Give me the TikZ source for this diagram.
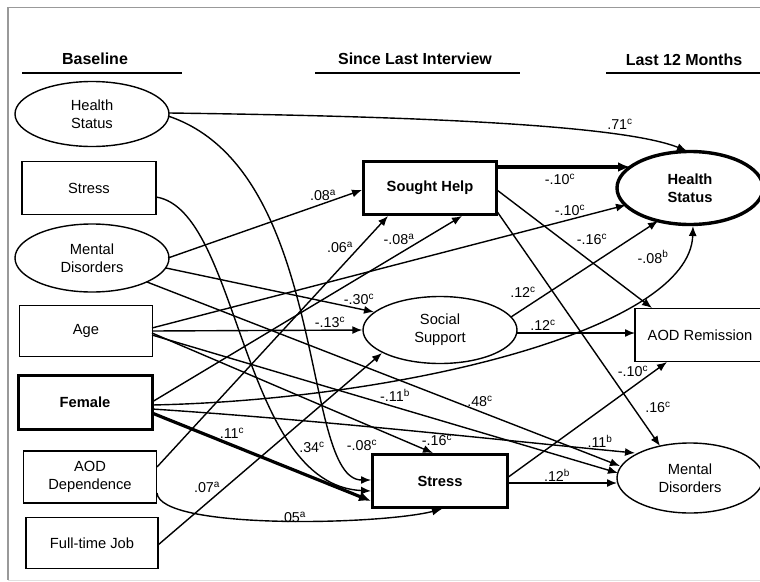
\documentclass[tikz,border=0pt]{standalone}
\usepackage{fontspec}
\setmainfont{Liberation Sans}
\usetikzlibrary{shapes.geometric,arrows.meta,calc}
\newcommand\pcoef[2]{#1\textsuperscript{#2}}
\begin{document}
\begin{tikzpicture}[x=1pt,y=-1pt,
  every node/.style={font=\fontsize{14.7}{18}\selectfont, align=center, inner sep=0pt},
  ell/.style={draw, ellipse, line width=1.4pt},
  box/.style={draw, rectangle, line width=1.4pt},
  heavy/.style={line width=3pt, font=\bfseries\fontsize{14.7}{18}\selectfont},
  conn/.style={line width=1.4pt, -{Latex[length=10pt,width=8pt]}},
  thickconn/.style={line width=3.2pt, -{Latex[length=12pt,width=10pt]}},
  lbl/.style={font=\fontsize{14.3}{15}\selectfont},
  hdr/.style={font=\bfseries\fontsize{16}{18}\selectfont},
  rule/.style={line width=1.6pt},
  frame/.style={line width=1.5pt, draw=black!40},
]
\useasboundingbox (0,0) rectangle (760,581);
\clip (0,0) rectangle (760,581);
\fill[white] (0,0) rectangle (760,581);
% frame
\coordinate (ftl) at (8,7.5);
\coordinate (ftr) at (761,7.5);
\coordinate (fbl) at (8,580);
\coordinate (fbr) at (761,580);
\draw[frame] (ftr) -- (ftl) -- (fbl);
\draw[line width=1pt, draw=black!12] (fbl) -- (fbr);

% headers
\node[hdr] (h1) at (95,59) {Baseline};
\node[hdr] (h2) at (415,59) {Since Last Interview};
\node[hdr] (h3) at (684,60) {Last 12 Months};
\draw[rule] (22,73) -- (182,73);
\draw[rule] (315,73) -- (520,73);
\draw[rule] (606,73) -- (765,73);

% baseline column
\node[ell, minimum width=154pt, minimum height=65pt] (bHS) at (92,114) {Health\\Status};
\node[box, minimum width=134pt, minimum height=53pt] (bSt) at (89,188) {Stress};
\node[ell, minimum width=154pt, minimum height=68pt] (bMD) at (92,258) {Mental\\Disorders};
\node[box, minimum width=133pt, minimum height=51pt] (bAge) at (86,331) {Age};
\node[box, heavy, minimum width=134pt, minimum height=54pt] (bFem) at (85,402) {Female};
\node[box, minimum width=133pt, minimum height=52pt] (bAOD) at (90,477) {AOD\\Dependence};
\node[box, minimum width=132pt, minimum height=51pt] (bJob) at (92,543) {Full-time Job};

% middle column
\node[box, heavy, minimum width=133pt, minimum height=53pt] (mSH) at (430,188) {Sought Help};
\node[ell, minimum width=154pt, minimum height=67pt] (mSS) at (440,330) {Social\\Support};
\node[box, heavy, minimum width=135pt, minimum height=53pt] (mSt) at (440,481) {Stress};

% right column
\node[ell, heavy, line width=3.4pt, minimum width=146pt, minimum height=73pt] (rHS) at (690,188) {Health\\Status};
\node[box, minimum width=130pt, minimum height=53pt] (rAOD) at (700,335) {AOD Remission};
\node[ell, minimum width=146pt, minimum height=70pt] (rMD) at (690,478) {Mental\\Disorders};

% connectors
\draw[conn] ($(bHS)+(77,-1)$) .. controls (400,116) and (620,124) .. ($(rHS)+(-3,-37)$);
\draw[conn] ($(bHS)+(76,2)$) .. controls (330,170) and (300,480) .. ($(mSt)+(-69,-1)$);
\draw[conn] ($(bSt)+(67,9)$) .. controls (240,210) and (240,485) .. ($(mSt)+(-69,10)$);
\draw[thickconn] ($(bFem)+(67,11)$) -- ($(mSt)+(-69,20)$);
\draw[conn] ($(bAOD)+(67,16)$) .. controls (160,530) and (380,525) .. ($(mSt)+(2,28)$);
\draw[conn] ($(bAOD)+(67,-10)$) -- ($(mSH)+(-42,28)$);
\draw[conn] ($(bJob)+(66,2)$) -- ($(mSS)+(-58,23)$);
\draw[conn] ($(bMD)+(76,0)$) -- ($(mSH)+(-68,2)$);
\draw[conn] ($(bMD)+(74,10)$) -- ($(mSS)+(-66,-18)$);
\draw[conn] ($(bMD)+(55,24)$) -- ($(rMD)+(-70,-12)$);
\draw[conn] ($(bAge)+(66,-3)$) -- ($(rHS)+(-64,17)$);
\draw[conn] ($(bAge)+(66,0)$) -- (mSS.west);
\draw[conn] ($(bAge)+(66,2)$) -- ($(mSt)+(-7,-28)$);
\draw[conn] ($(bAge)+(66,4)$) -- ($(rMD)+(-72,-5)$);
\draw[conn] ($(bFem)+(67,0)$) -- ($(mSH)+(32,28)$);
\draw[conn] ($(bFem)+(67,3)$) .. controls (400,400) and (690,330) .. ($(rHS)+(3,38)$);
\draw[conn] ($(bFem)+(67,7)$) .. controls (320,420) and (500,440) .. ($(rMD)+(-55,-25)$);
\draw[thickconn] ($(mSH)+(67,-21)$) -- ($(rHS)+(-60,-21)$);
\draw[conn] ($(mSH)+(67,2)$) -- ($(rAOD)+(-48,-27)$);
\draw[conn] ($(mSH)+(66,22)$) -- ($(rMD)+(-30,-32)$);
\draw[conn] ($(mSS)+(71,-13)$) -- ($(rHS)+(-32,33)$);
\draw[conn] ($(mSS)+(77,3)$) -- ($(rAOD)+(-65,-2)$);
\draw[conn] ($(mSt)+(67,-3)$) -- ($(rAOD)+(-33,27)$);
\draw[conn] ($(mSt)+(68,2)$) -- ($(rMD)+(-73,5)$);

% labels
\node[lbl] (l01) at (620,124) {\pcoef{.71}{c}};
\node[lbl] (l02) at (362,445) {\pcoef{-.08}{c}};
\node[lbl] (l03) at (312,447) {\pcoef{.34}{c}};
\node[lbl] (l04) at (232,433) {\pcoef{.11}{c}};
\node[lbl] (l05) at (293,517) {\pcoef{.05}{a}};
\node[lbl] (l06) at (340,247) {\pcoef{.06}{a}};
\node[lbl] (l07) at (207,487) {\pcoef{.07}{a}};
\node[lbl] (l08) at (323,195) {\pcoef{.08}{a}};
\node[lbl] (l09) at (359,299) {\pcoef{-.30}{c}};
\node[lbl] (l10) at (480,401) {\pcoef{.48}{c}};
\node[lbl] (l11) at (570,210) {\pcoef{-.10}{c}};
\node[lbl] (l12) at (330,322) {\pcoef{-.13}{c}};
\node[lbl] (l13) at (437,440) {\pcoef{-.16}{c}};
\node[lbl] (l14) at (395,395) {\pcoef{-.11}{b}};
\node[lbl] (l15) at (399,239) {\pcoef{-.08}{a}};
\node[lbl] (l16) at (653,257) {\pcoef{-.08}{b}};
\node[lbl] (l17) at (600,441) {\pcoef{.11}{b}};
\node[lbl] (l18) at (560,179) {\pcoef{-.10}{c}};
\node[lbl] (l19) at (592,239) {\pcoef{-.16}{c}};
\node[lbl] (l20) at (658,407) {\pcoef{.16}{c}};
\node[lbl] (l21) at (523,292) {\pcoef{.12}{c}};
\node[lbl] (l22) at (543,325) {\pcoef{.12}{c}};
\node[lbl] (l23) at (633,371) {\pcoef{-.10}{c}};
\node[lbl] (l24) at (557,475) {\pcoef{.12}{b}};
\end{tikzpicture}
\end{document}
